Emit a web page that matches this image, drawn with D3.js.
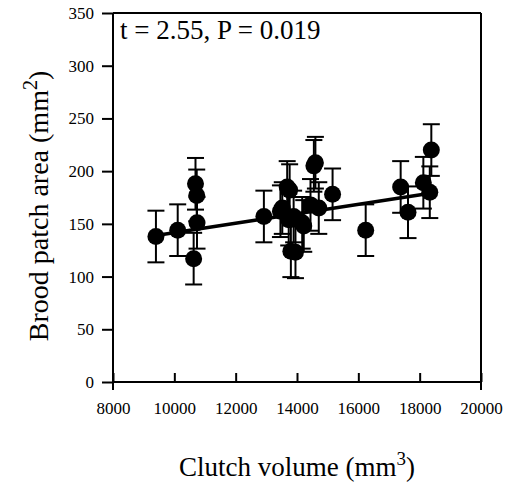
<!DOCTYPE html>
<html><head><meta charset="utf-8">
<script src="https://cdn.jsdelivr.net/npm/d3@7"></script>
<style>body{margin:0;background:#fff} svg text{font-family:"Liberation Serif","Times New Roman",Times,serif !important;}</style>
</head><body>
<script>
const clutchVolume = [9400, 10110, 10690, 10730, 10740, 10630, 12920, 13460, 13520, 13680, 13760, 13730, 13800, 13950, 13890, 14170, 14220, 14440, 14550, 14600, 14710, 15160, 16240, 17380, 17620, 18120, 18330, 18380];
const broodPatch   = [138, 144, 188, 177, 151, 117, 157, 162, 165, 185, 182, 154, 124, 123, 157, 151, 148, 168, 205, 208, 165, 178, 144, 185, 161, 189, 180, 220];
const errorSE      = [24.5, 24.5, 24.5, 24.5, 24.5, 24.5, 24.5, 24.5, 24.5, 24.5, 24.5, 24.5, 24.5, 24.5, 24.5, 24.5, 24.5, 24.5, 24.5, 24.5, 24.5, 24.5, 24.5, 24.5, 24.5, 24.5, 24.5, 24.5];
const fitX = [9400, 18350];
const fitY = [139, 179];
const xTicks = [8000, 10000, 12000, 14000, 16000, 18000, 20000];
const yTicks = [0, 50, 100, 150, 200, 250, 300, 350];
const statText = "t = 2.55, P = 0.019";

const W = 508, H = 485;
const L = 113, R = 481, T = 13, B = 382;
const svg = d3.select("body").append("svg").attr("width", W).attr("height", H)
  .attr("font-family", "Liberation Serif");
const x = d3.scaleLinear().domain([8000, 20000]).range([L, R]);
const y = d3.scaleLinear().domain([0, 350]).range([B, T]);

// frame
svg.append("line").attr("x1", L).attr("x2", R).attr("y1", T).attr("y2", T).attr("stroke", "#000").attr("stroke-width", 2);
svg.append("line").attr("x1", R).attr("x2", R).attr("y1", T).attr("y2", B + 8).attr("stroke", "#000").attr("stroke-width", 2);
svg.append("line").attr("x1", L).attr("x2", L).attr("y1", T).attr("y2", B + 8).attr("stroke", "#000").attr("stroke-width", 2);

// axes
const yAxis = d3.axisLeft(y).tickValues(yTicks).tickSize(11).tickPadding(8).tickFormat(d3.format("d"));
const gy = svg.append("g").attr("transform", `translate(${L},0)`).call(yAxis);
gy.attr("font-family", null).attr("font-size", null);
gy.select(".domain").remove();
gy.selectAll("line").attr("stroke-width", 2);
gy.selectAll("text").style("font-size", "17px").attr("fill", "#000");

const xAxis = d3.axisBottom(x).tickValues(xTicks).tickSize(-9).tickPadding(20).tickFormat(d3.format("d"));
const gx = svg.append("g").attr("transform", `translate(0,${B})`).call(xAxis);
gx.attr("font-family", null).attr("font-size", null);
gx.select(".domain").remove();
gx.selectAll("line").attr("stroke-width", 2);
gx.selectAll("text").style("font-size", "17px").attr("fill", "#000");
svg.append("line").attr("x1", L).attr("x2", R).attr("y1", B).attr("y2", B).attr("stroke", "#000").attr("stroke-width", 2);

// regression line
svg.append("line").attr("x1", x(fitX[0])).attr("y1", y(fitY[0])).attr("x2", x(fitX[1])).attr("y2", y(fitY[1]))
  .attr("stroke", "#000").attr("stroke-width", 3.5);

const data = clutchVolume.map((v, i) => ({x: v, y: broodPatch[i], e: errorSE[i]}));
const eb = svg.append("g").attr("stroke", "#000").attr("stroke-width", 2);
data.forEach(d => {
  const cx = x(d.x);
  eb.append("line").attr("x1", cx).attr("x2", cx).attr("y1", y(d.y + d.e)).attr("y2", y(d.y - d.e));
  eb.append("line").attr("x1", cx - 8.5).attr("x2", cx + 8.5).attr("y1", y(d.y + d.e)).attr("y2", y(d.y + d.e));
  eb.append("line").attr("x1", cx - 8.5).attr("x2", cx + 8.5).attr("y1", y(d.y - d.e)).attr("y2", y(d.y - d.e));
});
svg.append("g").selectAll("circle").data(data).join("circle")
  .attr("cx", d => x(d.x)).attr("cy", d => y(d.y)).attr("r", 8.5).attr("fill", "#000");

// stat text
svg.append("text").attr("x", 120).attr("y", 38.5).style("font-size", "27px").text(statText);

// axis titles
const xt = svg.append("text").attr("x", (L + R) / 2).attr("y", 476).attr("text-anchor", "middle").style("font-size", "27px");
xt.append("tspan").text("Clutch volume (mm");
xt.append("tspan").attr("dy", -11).style("font-size", "19px").text("3");
xt.append("tspan").attr("dy", 11).text(")");

const yt = svg.append("text").attr("transform", `translate(48,206) rotate(-90)`).attr("text-anchor", "middle").style("font-size", "28px");
yt.append("tspan").text("Brood patch area (mm");
yt.append("tspan").attr("dy", -11).style("font-size", "20px").text("2");
yt.append("tspan").attr("dy", 11).text(")");
</script>
</body></html>
